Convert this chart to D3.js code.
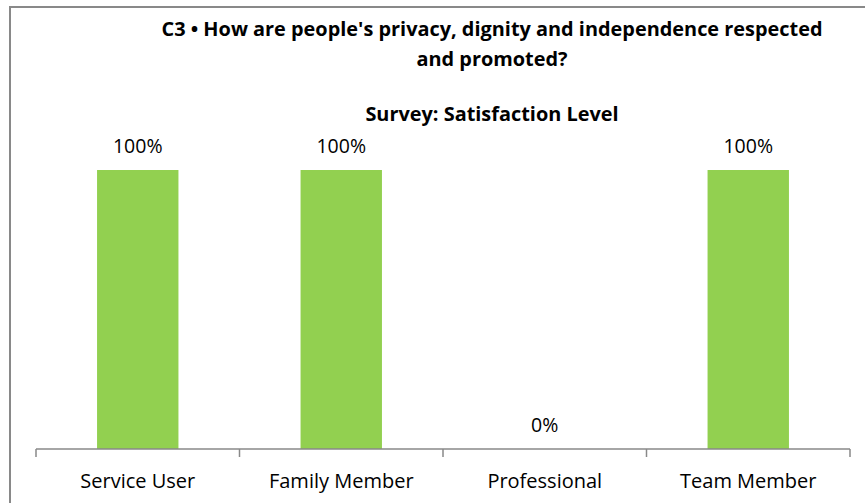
<!DOCTYPE html>
<html>
<head>
<meta charset="utf-8">
<script src="https://cdn.jsdelivr.net/npm/d3@7"></script>
<style>
  html, body { margin: 0; padding: 0; background: #fff; }
  svg { display: block; }
  text { font-family: "Open Sans", "Noto Sans", sans-serif; fill: #000; }
</style>
</head>
<body>
<div id="chart"></div>
<script>
// Survey responses per respondent group
const categories = ["Service User", "Family Member", "Professional", "Team Member"];
const satisfaction = [1.00, 1.00, 0.00, 1.00];
const titleLines = ["C3 \u2022 How are people's privacy, dignity and independence respected", "and promoted?"];
const subtitle = "Survey: Satisfaction Level";

const W = 865, H = 503;
const FONT = "'Open Sans', 'Noto Sans', sans-serif";
const svg = d3.select("#chart").append("svg").attr("width", W).attr("height", H);

// Chart frame (left and top edges visible)
svg.append("path")
  .attr("d", `M10,${H + 5} L10,7 L${W + 5},7`)
  .attr("fill", "none")
  .attr("stroke", "#898989")
  .attr("stroke-width", 2);

const x = d3.scaleBand()
  .domain(categories)
  .range([36, 850])
  .paddingInner(0.6)
  .paddingOuter(0.3);

const y = d3.scaleLinear().domain([0, 1]).range([449, 170]);

// Titles
const title = svg.append("text")
  .attr("text-anchor", "middle")
  .attr("font-weight", "bold")
  .attr("font-size", 19.9);
titleLines.forEach((t, i) => {
  title.append("tspan")
    .attr("x", 492)
    .attr("y", 36 + i * 30)
    .text(t);
});
svg.append("text")
  .attr("x", 492).attr("y", 121)
  .attr("text-anchor", "middle")
  .attr("font-weight", "bold")
  .attr("font-size", 19.9)
  .text(subtitle);

// Bars
svg.selectAll("rect.bar")
  .data(categories)
  .join("rect")
  .attr("class", "bar")
  .attr("x", d => x(d))
  .attr("width", x.bandwidth())
  .attr("y", (d, i) => y(satisfaction[i]))
  .attr("height", (d, i) => y(0) - y(satisfaction[i]))
  .attr("fill", "#92D050");

// Value labels
svg.selectAll("text.value")
  .data(categories)
  .join("text")
  .attr("class", "value")
  .attr("x", d => x(d) + x.bandwidth() / 2)
  .attr("y", (d, i) => y(satisfaction[i]) - 17)
  .attr("text-anchor", "middle")
  .attr("font-size", 19.5)
  .text((d, i) => d3.format(".0%")(satisfaction[i]));

// Category axis with tick marks between groups
const axis = d3.axisBottom(x).tickSize(0).tickPadding(25);
const gx = svg.append("g").attr("transform", `translate(0,${y(0)})`).call(axis);
gx.select(".domain").attr("stroke", "#898989").attr("stroke-width", 1.5)
  .attr("d", `M36,0H850`);
gx.selectAll(".tick text")
  .attr("font-family", FONT)
  .attr("font-size", 20)
  .attr("fill", "#000");

const boundaries = d3.range(categories.length + 1).map(i => 36 + i * (814 / categories.length));
gx.selectAll("line.sep")
  .data(boundaries)
  .join("line")
  .attr("class", "sep")
  .attr("x1", d => d).attr("x2", d => d)
  .attr("y1", 0).attr("y2", 8)
  .attr("stroke", "#898989")
  .attr("stroke-width", 1.5);
</script>
</body>
</html>
